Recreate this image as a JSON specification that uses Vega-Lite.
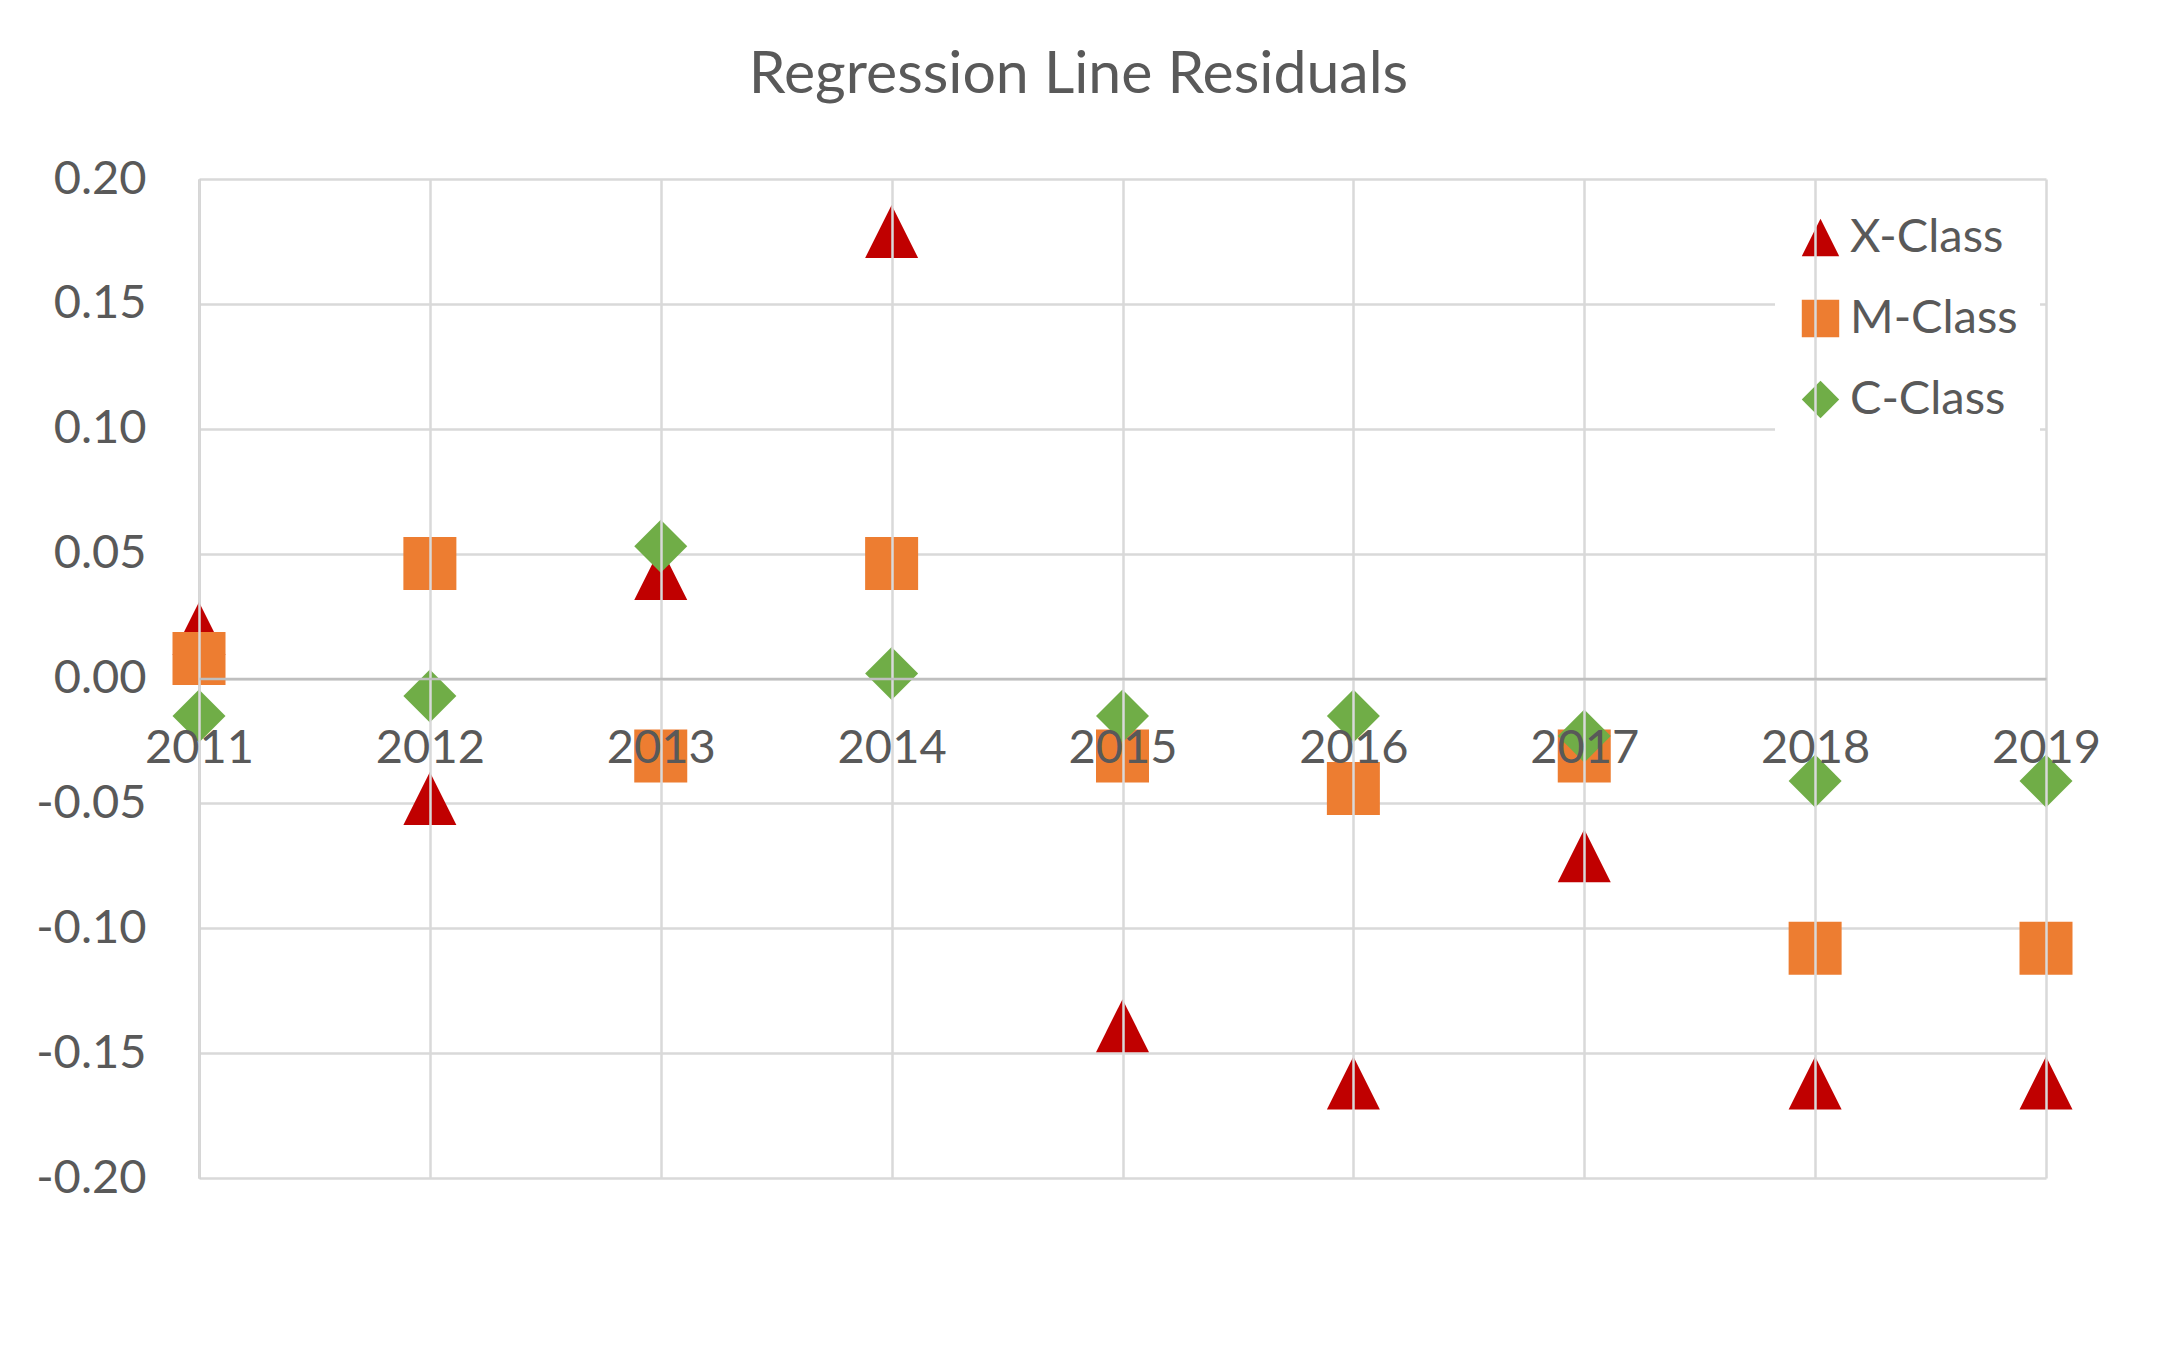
{
  "$schema": "https://vega.github.io/schema/vega-lite/v6.json",
  "width": 1847,
  "height": 999,
  "autosize": {"type": "none"},
  "padding": {"left": 199, "top": 179, "right": 112, "bottom": 187},
  "background": "white",
  "config": {
    "view": {"stroke": null},
    "font": "Lato"
  },
  "title": {
    "text": "Regression Line Residuals",
    "font": "Lato",
    "fontSize": 59,
    "fontWeight": "normal",
    "color": "#595959",
    "anchor": "middle",
    "baseline": "alphabetic",
    "offset": 3,
    "dx": -44
  },
  "data": {
    "values": [
      {"year": 2011, "cls": "X-Class", "value": 0.020},
      {"year": 2012, "cls": "X-Class", "value": -0.048},
      {"year": 2013, "cls": "X-Class", "value": 0.042},
      {"year": 2014, "cls": "X-Class", "value": 0.179},
      {"year": 2015, "cls": "X-Class", "value": -0.139},
      {"year": 2016, "cls": "X-Class", "value": -0.162},
      {"year": 2017, "cls": "X-Class", "value": -0.071},
      {"year": 2018, "cls": "X-Class", "value": -0.162},
      {"year": 2019, "cls": "X-Class", "value": -0.162},
      {"year": 2011, "cls": "M-Class", "value": 0.008},
      {"year": 2012, "cls": "M-Class", "value": 0.046},
      {"year": 2013, "cls": "M-Class", "value": -0.031},
      {"year": 2014, "cls": "M-Class", "value": 0.046},
      {"year": 2015, "cls": "M-Class", "value": -0.031},
      {"year": 2016, "cls": "M-Class", "value": -0.044},
      {"year": 2017, "cls": "M-Class", "value": -0.031},
      {"year": 2018, "cls": "M-Class", "value": -0.108},
      {"year": 2019, "cls": "M-Class", "value": -0.108},
      {"year": 2011, "cls": "C-Class", "value": -0.015},
      {"year": 2012, "cls": "C-Class", "value": -0.007},
      {"year": 2013, "cls": "C-Class", "value": 0.053},
      {"year": 2014, "cls": "C-Class", "value": 0.002},
      {"year": 2015, "cls": "C-Class", "value": -0.015},
      {"year": 2016, "cls": "C-Class", "value": -0.015},
      {"year": 2017, "cls": "C-Class", "value": -0.023},
      {"year": 2018, "cls": "C-Class", "value": -0.041},
      {"year": 2019, "cls": "C-Class", "value": -0.041}
    ]
  },
  "mark": {"type": "point", "filled": true, "opacity": 1, "size": 2809, "strokeWidth": 0},
  "encoding": {
    "x": {
      "field": "year",
      "type": "quantitative",
      "scale": {"domain": [2011, 2019], "nice": false, "zero": false},
      "axis": {
        "title": null,
        "values": [2011, 2012, 2013, 2014, 2015, 2016, 2017, 2018, 2019],
        "format": "d",
        "offset": -499.5,
        "zindex": 1,
        "ticks": false,
        "tickSize": 0,
        "domainColor": "#bfbfbf",
        "domainWidth": 2.5,
        "gridColor": "#d9d9d9",
        "gridWidth": 2.5,
        "labelFont": "Lato",
        "labelFontSize": 47,
        "labelColor": "#595959",
        "labelBaseline": "middle",
        "labelPadding": 70,
        "labelFlush": false,
        "labelOverlap": false
      }
    },
    "y": {
      "field": "value",
      "type": "quantitative",
      "scale": {"domain": [-0.2, 0.2], "nice": false},
      "axis": {
        "title": null,
        "values": [-0.2, -0.15, -0.1, -0.05, 0, 0.05, 0.1, 0.15, 0.2],
        "labelExpr": "(datum.value < -0.0001 ? '-' : '') + format(abs(datum.value), '.2f')",
        "ticks": false,
        "tickSize": 0,
        "domainColor": "#bfbfbf",
        "domainWidth": 2.5,
        "gridColor": "#d9d9d9",
        "gridWidth": 2.5,
        "labelFont": "Lato",
        "labelFontSize": 47,
        "labelColor": "#595959",
        "labelPadding": 53,
        "labelOverlap": false
      }
    },
    "color": {
      "field": "cls",
      "type": "nominal",
      "scale": {
        "domain": ["X-Class", "M-Class", "C-Class"],
        "range": ["#C00000", "#ED7D31", "#70AD47"]
      },
      "legend": {
        "title": null,
        "orient": "none",
        "legendX": 1576,
        "legendY": 13,
        "fillColor": "white",
        "padding": 22,
        "symbolSize": 1400,
        "symbolStrokeWidth": 0,
        "labelFont": "Lato",
        "labelFontSize": 47,
        "labelColor": "#595959",
        "labelOffset": 6,
        "labelLimit": 500,
        "rowPadding": 33
      }
    },
    "shape": {
      "field": "cls",
      "type": "nominal",
      "scale": {
        "domain": ["X-Class", "M-Class", "C-Class"],
        "range": ["M0,-1L1,1L-1,1Z", "square", "diamond"]
      },
      "legend": null
    }
  }
}
